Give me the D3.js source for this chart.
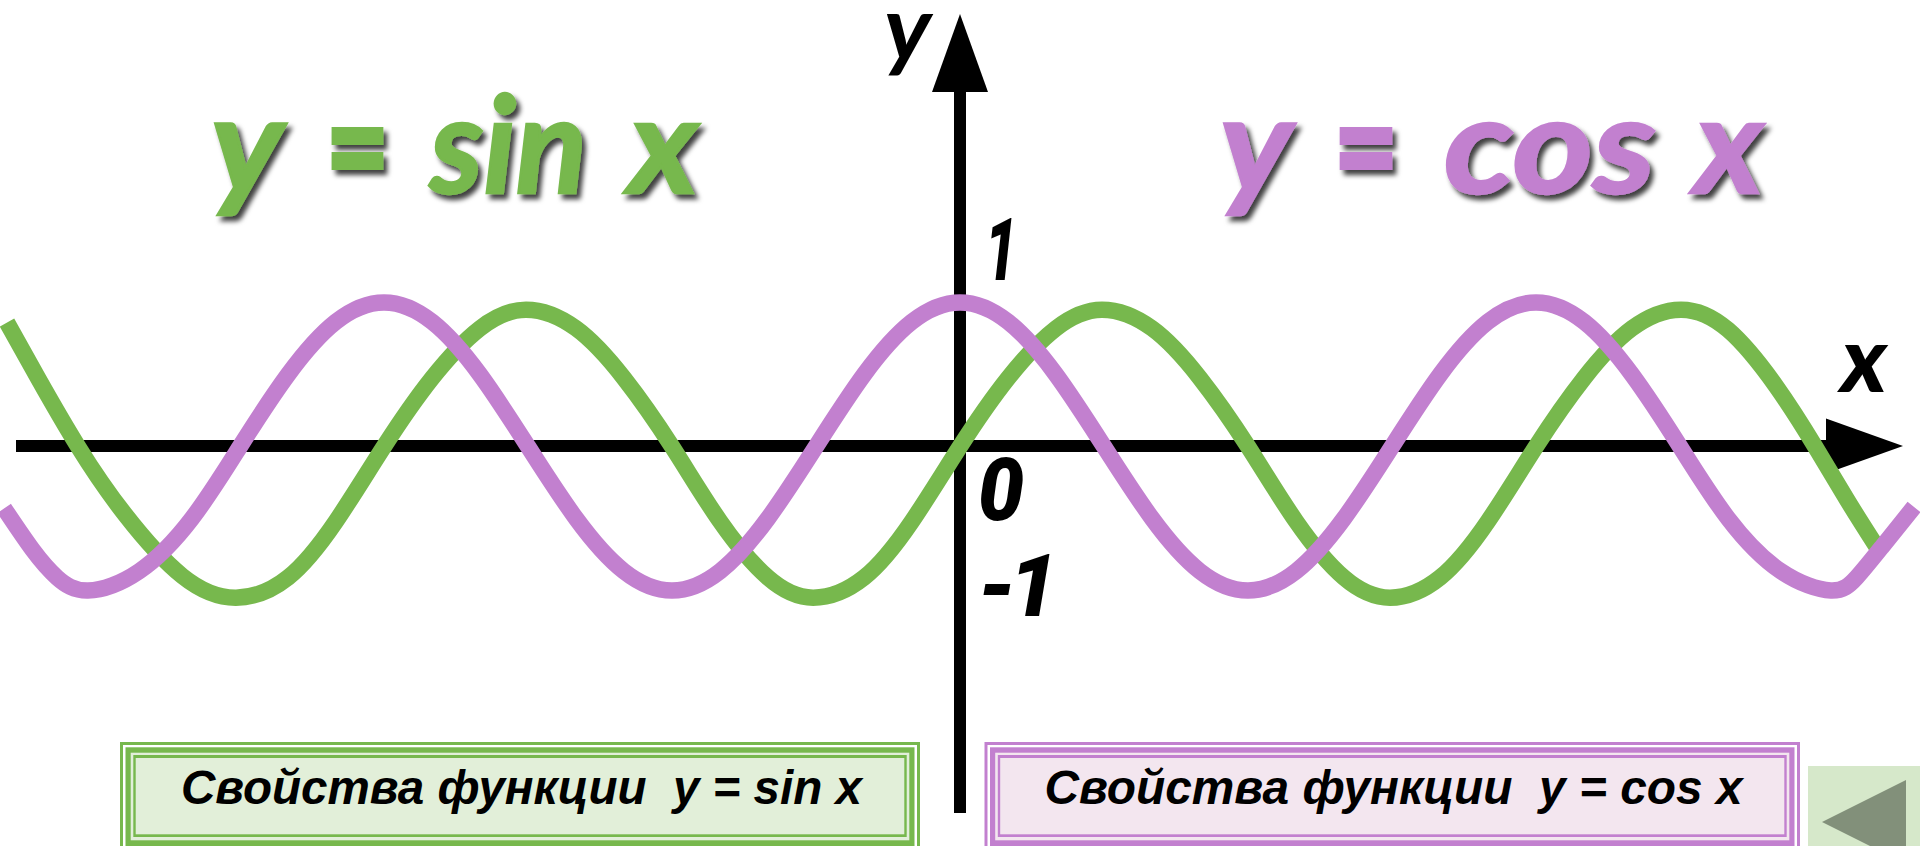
<!DOCTYPE html>
<html>
<head>
<meta charset="utf-8">
<script src="https://cdn.jsdelivr.net/npm/d3@7"></script>
<style>
  html, body { margin: 0; padding: 0; background: #fff; overflow: hidden; }
  svg { display: block; }
</style>
</head>
<body>
<div id="chart"></div>
<script>
const width = 1920, height = 846;

// x is in units of pi
const cosX = [-3.319,-3.219,-3.135,-3.028,-2.85,-2.667,-2.5,-2.333,-2.167,-2,-1.833,-1.667,-1.5,-1.333,-1.167,-1,-0.833,-0.667,-0.5,-0.333,-0.167,0,0.167,0.333,0.5,0.667,0.833,1,1.167,1.333,1.5,1.667,1.833,2,2.167,2.333,2.5,2.667,2.85,3.024,3.113,3.2,3.3125];
const cosY = [-0.43,-0.72,-0.91,-1,-0.866,-0.5,0,0.5,0.866,1,0.866,0.5,0,-0.5,-0.866,-1,-0.866,-0.5,0,0.5,0.866,1,0.866,0.5,0,-0.5,-0.866,-1,-0.866,-0.5,0,0.5,0.866,1,0.866,0.5,0,-0.5,-0.866,-1,-0.91,-0.7,-0.42];

const sinX = [-3.309,-3.2,-3.0625,-2.9,-2.7,-2.514,-2.333,-2.167,-2,-1.833,-1.667,-1.507,-1.333,-1.167,-1,-0.833,-0.667,-0.51,-0.333,-0.167,0,0.167,0.333,0.493,0.667,0.833,1,1.167,1.333,1.493,1.667,1.833,2,2.167,2.333,2.503,2.667,2.833,2.969,3.08,3.184];
const sinY = [0.86,0.47,0,-0.47,-0.9,-1.05,-0.91,-0.52,0,0.475,0.82,0.95,0.82,0.475,0,-0.52,-0.91,-1.05,-0.91,-0.52,0,0.475,0.82,0.95,0.82,0.475,0,-0.52,-0.91,-1.05,-0.91,-0.52,0,0.475,0.82,0.95,0.81,0.42,0,-0.37,-0.7];

const yTicks = ["1", "0", "-1"];
const sinTitle = ["y", "=", "sin", "x"];
const cosTitle = ["y", "=", "cos", "x"];
const sinLabel = "Свойства функции  y = sin x";
const cosLabel = "Свойства функции  y = cos x";

const green = "#77b84d", purple = "#c280cf";

const xScale = d3.scaleLinear().domain([-10 / 3, 10 / 3]).range([0, width]);
const yScale = d3.scaleLinear().domain([-1, 1]).range([590.5, 302.5]);

const svg = d3.select("#chart").append("svg")
  .attr("width", width)
  .attr("height", height);

const defs = svg.append("defs");
defs.append("filter").attr("id", "shadow")
  .attr("x", "-20%").attr("y", "-20%").attr("width", "150%").attr("height", "150%")
  .append("feDropShadow")
    .attr("dx", 4).attr("dy", 5)
    .attr("stdDeviation", 2.5)
    .attr("flood-color", "#000")
    .attr("flood-opacity", 0.75);

// axes
const axisY = yScale(0), axisX = xScale(0);

svg.append("rect").attr("x", 16).attr("y", axisY - 6.5).attr("width", 1815).attr("height", 12).attr("fill", "#000");
svg.append("rect").attr("x", axisX - 6).attr("y", 88).attr("width", 12).attr("height", 725).attr("fill", "#000");
svg.append("path").attr("d", `M1826,${axisY - 28}L1903,${axisY - 0.5}L1826,${axisY + 27}Z`).attr("fill", "#000");
svg.append("path").attr("d", `M${axisX - 28},92L${axisX},14L${axisX + 28},92Z`).attr("fill", "#000");

// curves
const line = d3.line()
  .x(d => xScale(d[0]))
  .y(d => yScale(d[1]))
  .curve(d3.curveNatural);

svg.append("path")
  .datum(d3.zip(sinX, sinY))
  .attr("d", line)
  .attr("fill", "none")
  .attr("stroke", green)
  .attr("stroke-width", 16.5);

svg.append("path")
  .datum(d3.zip(cosX, cosY))
  .attr("d", line)
  .attr("fill", "none")
  .attr("stroke", purple)
  .attr("stroke-width", 16.5);

// axis labels
function bigText(t, x, y, size, len, opts) {
  opts = opts || {};
  return svg.append("text")
    .text(t)
    .attr("x", x)
    .attr("y", y)
    .attr("font-family", opts.family || "Roboto")
    .attr("font-weight", opts.weight || 700)
    .attr("font-style", "italic")
    .attr("font-size", size)
    .attr("fill", opts.fill || "#000")
    .attr("textLength", len)
    .attr("lengthAdjust", opts.adjust || "spacingAndGlyphs");
}

bigText("y", 884, 60, 90, 47, { family: "Lato" });
bigText("x", 1841, 392, 92, 46, { family: "Lato", weight: 900 });
bigText(yTicks[0], 985, 280, 87, 32, { weight: 900 });
bigText(yTicks[1], 978, 520, 87, 46, { weight: 900 });
bigText(yTicks[2], 978, 616, 87, 80, { weight: 900, adjust: "spacing" });

// big formulas
const titleSlots = [[211, 72], [326, 63], [430, 157], [629, 69]];
const cosSlots = [[1220, 72], [1334, 64], [1444, 212], [1695, 68]];

function drawTitle(words, slots, color) {
  const g = svg.append("g").attr("filter", "url(#shadow)");
  words.forEach(function(w, i) {
    const isEq = w === "=";
    g.append("text")
      .text(w)
      .attr("x", slots[i][0])
      .attr("y", isEq ? 195 : 193)
      .attr("font-family", "Lato")
      .attr("font-weight", isEq ? 900 : 700)
      .attr("font-style", isEq ? "normal" : "italic")
      .attr("font-size", isEq ? 140 : 134)
      .attr("fill", color)
      .attr("stroke", color)
      .attr("stroke-width", isEq ? 4 : 2.5)
      .attr("textLength", slots[i][1])
      .attr("lengthAdjust", "spacingAndGlyphs");
  });
}

drawTitle(sinTitle, titleSlots, green);
drawTitle(cosTitle, cosSlots, purple);

// boxes at the bottom, frames run off the lower edge
function drawBox(x, w, color, fill, label, tx, tw) {
  const g = svg.append("g");
  g.append("rect").attr("x", x).attr("y", 742).attr("width", w).attr("height", 110).attr("fill", color);
  g.append("rect").attr("x", x + 3).attr("y", 745).attr("width", w - 6).attr("height", 110).attr("fill", "#fff");
  g.append("rect").attr("x", x + 5.5).attr("y", 747.3).attr("width", w - 11).attr("height", 110).attr("fill", color);
  g.append("rect").attr("x", x + 10.7).attr("y", 752.7).attr("width", w - 21.4).attr("height", 87.6).attr("fill", fill);
  g.append("rect").attr("x", x + 13.3).attr("y", 755).attr("width", w - 26.6).attr("height", 82).attr("fill", color);
  g.append("rect").attr("x", x + 15.7).attr("y", 758).attr("width", w - 31.4).attr("height", 76.3).attr("fill", fill);
  g.append("text")
    .text(label)
    .attr("xml:space", "preserve")
    .style("white-space", "pre")
    .attr("x", tx)
    .attr("y", 804)
    .attr("font-family", "Liberation Sans")
    .attr("font-weight", 700)
    .attr("font-style", "italic")
    .attr("font-size", 48)
    .attr("fill", "#000")
    .attr("textLength", tw)
    .attr("lengthAdjust", "spacingAndGlyphs");
}

drawBox(120, 800, green, "#e2efd9", sinLabel, 181, 681);
drawBox(984.5, 815.5, purple, "#f3e6ef", cosLabel, 1044.5, 698);

// back button
svg.append("rect").attr("x", 1808).attr("y", 766).attr("width", 112).attr("height", 80).attr("fill", "#d6e8ca");
svg.append("path").attr("d", "M1822,822L1906,780L1906,864Z").attr("fill", "#82907a");
</script>
</body>
</html>
